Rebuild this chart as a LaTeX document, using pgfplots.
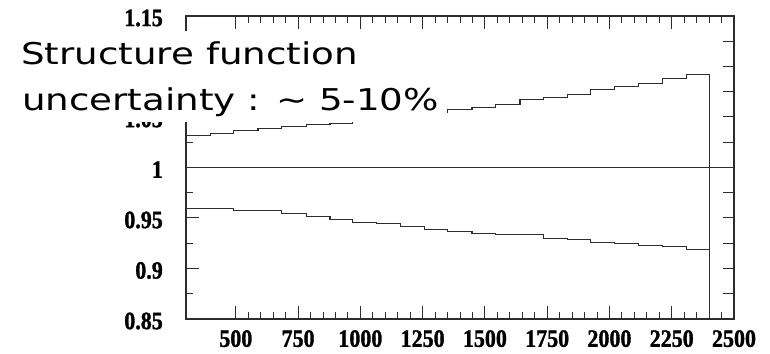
\documentclass[border=0pt]{standalone}
\usepackage{fontspec}
\usepackage{pgfplots}
\pgfplotsset{compat=1.18}
\newfontfamily\tickfont[FakeStretch=0.88,FakeBold=1.2]{Liberation Serif}
\newfontfamily\notefont[FakeStretch=1.24]{DejaVu Sans}
\definecolor{ln}{RGB}{45,45,45}
\begin{document}
\begin{tikzpicture}
\useasboundingbox (0,0) rectangle (770bp,354bp);
\begin{axis}[
  at={(186bp,35bp)}, anchor=south west,
  scale only axis, width=548bp, height=303bp,
  xmin=300, xmax=2500, ymin=0.85, ymax=1.15,
  xtick={500,750,1000,1250,1500,1750,2000,2250,2500},
  xticklabels={500,750,1000,1250,1500,1750,2000,2250,2500},
  minor x tick num=4,
  ytick={0.85,0.9,0.95,1,1.05,1.1,1.15},
  yticklabels={0.85,0.9,0.95,1,1.05,,1.15},
  minor y tick num=1,
  ytick pos=left,
  tick align=inside,
  major tick length=12.5bp, minor tick length=7bp,
  axis line style={ln, line width=1.1bp},
  every tick/.style={ln, line width=1bp},
  every minor tick/.style={ln, line width=1bp},
  yticklabel shift=23bp,
  xticklabel shift=11bp,
  yticklabel style={font=\tickfont\bfseries\fontsize{25bp}{25bp}\selectfont, anchor=east, inner sep=0pt, yshift=-2bp},
  xticklabel style={font=\tickfont\bfseries\fontsize{25bp}{25bp}\selectfont, anchor=north, inner sep=0pt},
]
\addplot[ln, line width=1.1bp, const plot] coordinates {
(300,1.0317) (397,1.0337) (492,1.0363) (589,1.0386) (685,1.0403) (782,1.0423)
(878,1.0440) (968,1.0466) (1064,1.0492) (1160,1.0518) (1257,1.0544) (1351,1.0571)
(1448,1.0598) (1544,1.0620) (1641,1.0673) (1737,1.0697) (1830,1.0723) (1925,1.0776)
(2022,1.0800) (2118,1.0835) (2214,1.0885) (2311,1.0918) (2400,1.0918) (2400,0.85)};
\addplot[ln, line width=1.1bp, const plot] coordinates {
(300,0.9598) (397,0.9598) (492,0.9574) (589,0.9574) (685,0.9545) (782,0.9515)
(878,0.9489) (968,0.9459) (1064,0.9443) (1160,0.9413) (1257,0.9390) (1351,0.9370)
(1448,0.9344) (1544,0.9334) (1641,0.9334) (1737,0.9297) (1830,0.9284) (1925,0.9258)
(2022,0.9245) (2118,0.9232) (2214,0.9218) (2311,0.9188) (2400,0.9188) (2400,0.85)};
\addplot[ln, line width=1.1bp] coordinates {(300,1) (2500,1)};
\end{axis}
\begin{axis}[
  at={(186bp,35bp)}, anchor=south west,
  scale only axis, width=548bp, height=303bp,
  xmin=300, xmax=2500, ymin=0.85, ymax=1.15,
  axis line style={draw=none},
  xtick=\empty,
  ytick={0.875,0.9,0.925,0.95,0.975,1,1.025,1.05,1.075,1.1,1.125},
  yticklabels={},
  ytick pos=right, tick align=inside,
  major tick length=11bp,
  every tick/.style={ln, line width=1bp},
]
\end{axis}
\fill[white] (0bp,232bp) rectangle (447bp,323bp);
\node[anchor=base west, inner sep=0pt] at (21bp,289bp)
  {\notefont\fontsize{30bp}{30bp}\selectfont Structure function};
\node[anchor=base west, inner sep=0pt] at (22bp,243.3bp)
  {\notefont\fontsize{30bp}{30bp}\selectfont uncertainty : \textasciitilde{} 5-10\%};
\end{tikzpicture}
\end{document}
